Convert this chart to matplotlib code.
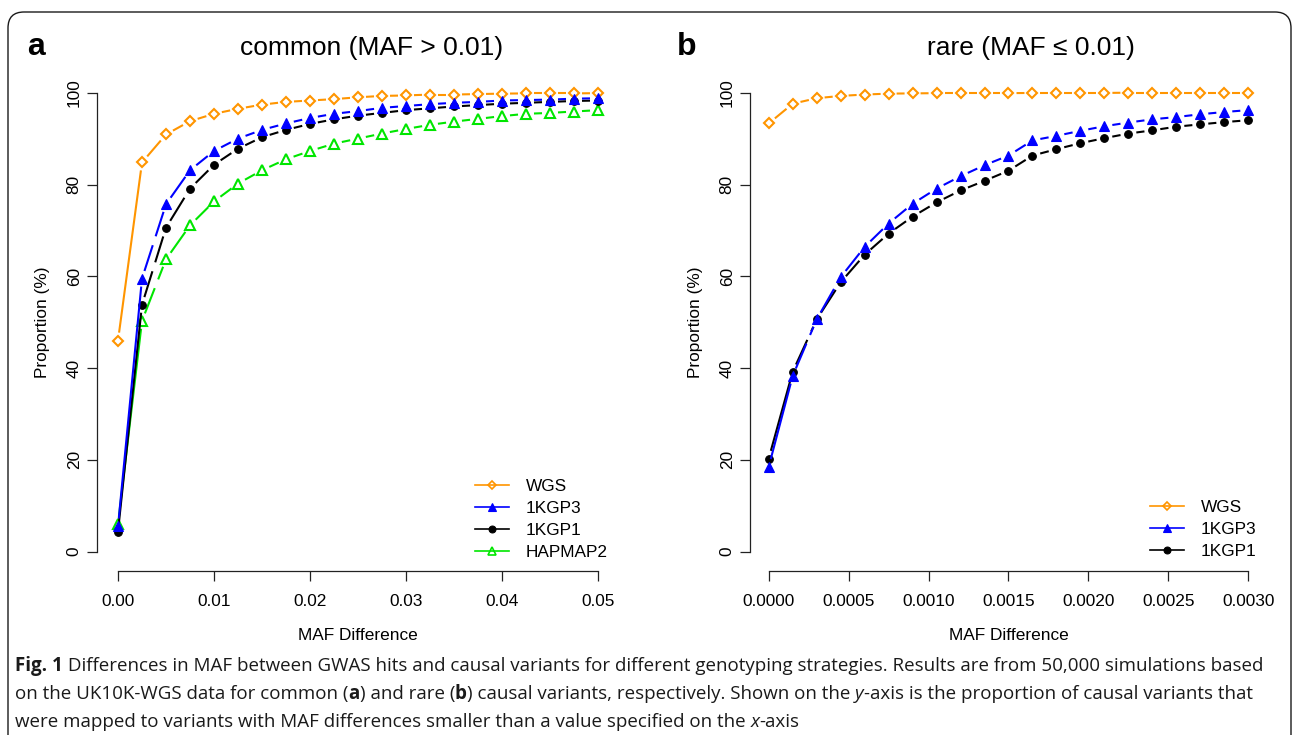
import numpy as np
import matplotlib
matplotlib.use("Agg")
import matplotlib.pyplot as plt
from matplotlib.lines import Line2D
from matplotlib.patches import FancyBboxPatch
from matplotlib.transforms import IdentityTransform

# ---- data ----
x_common = [0.0, 0.0025, 0.005, 0.0075, 0.01, 0.0125, 0.015, 0.0175, 0.02, 0.0225, 0.025,
            0.0275, 0.03, 0.0325, 0.035, 0.0375, 0.04, 0.0425, 0.045, 0.0475, 0.05]
wgs_common = [46.0, 84.8, 90.9, 93.8, 95.4, 96.5, 97.4, 98.0, 98.3, 98.6, 99.0,
              99.3, 99.4, 99.6, 99.6, 99.7, 99.8, 99.85, 99.85, 99.85, 99.9]
kgp3_common = [5.5, 59.5, 75.7, 83.1, 87.3, 90.0, 91.9, 93.3, 94.5, 95.4, 96.0,
               96.7, 97.1, 97.5, 97.8, 98.0, 98.3, 98.4, 98.5, 98.7, 98.8]
kgp1_common = [4.4, 53.8, 70.6, 79.1, 84.3, 87.8, 90.3, 91.9, 93.2, 94.2, 95.0,
               95.6, 96.2, 96.6, 97.0, 97.3, 97.6, 97.8, 98.0, 98.2, 98.3]
hapmap2_common = [6.0, 50.3, 63.7, 71.1, 76.3, 80.2, 83.1, 85.5, 87.3, 88.9, 90.0,
                  91.1, 92.1, 93.0, 93.7, 94.3, 94.9, 95.4, 95.6, 95.9, 96.2]

x_rare = [0.0, 0.00015, 0.0003, 0.00045, 0.0006, 0.00075, 0.0009, 0.00105, 0.0012, 0.00135,
          0.0015, 0.00165, 0.0018, 0.00195, 0.0021, 0.00225, 0.0024, 0.00255, 0.0027,
          0.00285, 0.003]
wgs_rare = [93.3, 97.6, 98.8, 99.3, 99.6, 99.8, 99.85, 99.9, 99.9, 99.9, 99.9,
            99.95, 99.95, 99.95, 99.95, 100.0, 100.0, 100.0, 100.0, 100.0, 100.0]
kgp3_rare = [18.5, 38.3, 50.6, 59.8, 66.4, 71.5, 75.8, 79.1, 81.8, 84.2, 86.3,
             89.6, 90.6, 91.7, 92.7, 93.5, 94.2, 94.7, 95.3, 95.8, 96.2]
kgp1_rare = [20.3, 39.2, 50.6, 58.7, 64.7, 69.3, 73.0, 76.1, 78.7, 80.8, 83.0,
             86.3, 87.7, 89.0, 90.1, 91.1, 91.8, 92.6, 93.1, 93.6, 94.0]

xticks_common = [0.0, 0.01, 0.02, 0.03, 0.04, 0.05]
xticklabels_common = ["0.00", "0.01", "0.02", "0.03", "0.04", "0.05"]
xticks_rare = [0.0, 0.0005, 0.001, 0.0015, 0.002, 0.0025, 0.003]
xticklabels_rare = ["0.0000", "0.0005", "0.0010", "0.0015", "0.0020", "0.0025", "0.0030"]
yticks = [0, 20, 40, 60, 80, 100]

# series styles: colour, marker, filled, marker size
STYLE = {
    "WGS": ("#FF9500", "D", False, 5.0),
    "1KGP3": ("#0000FF", "^", True, 7.0),
    "1KGP1": ("#000000", "o", True, 5.5),
    "HAPMAP2": ("#00E600", "^", False, 6.5),
}

W, H = 1293, 735
plt.rcParams["font.family"] = ["Liberation Sans", "DejaVu Sans"]
fig = plt.figure(figsize=(W / 100, H / 100), dpi=100)
fig.patch.set_facecolor("white")

AX_COL = "#222222"
FS = 12.4


def px_box(left, right, top, bottom):
    return [left / W, 1 - bottom / H, (right - left) / W, (bottom - top) / H]


def setup_axes(ax, xmax, xticks, xticklabels, pad_frac):
    span = xmax
    ax.set_xlim(-pad_frac * span, span * (1 + pad_frac))
    ax.set_ylim(-4.14, 104.14)
    for s in ["top", "right"]:
        ax.spines[s].set_visible(False)
    for s in ["left", "bottom"]:
        ax.spines[s].set_color(AX_COL)
        ax.spines[s].set_linewidth(0.9)
    ax.spines["left"].set_bounds(0, 100)
    ax.spines["bottom"].set_bounds(0, xmax)
    ax.set_xticks(xticks)
    ax.set_xticklabels(xticklabels)
    ax.set_yticks(yticks)
    ax.set_yticklabels([str(v) for v in yticks], rotation=90, va="center")
    ax.tick_params(axis="both", direction="out", length=7.5, width=0.9,
                   color=AX_COL, labelsize=FS)
    ax.tick_params(axis="x", pad=9)
    ax.tick_params(axis="y", pad=3.5)
    ax.set_xlabel("MAF Difference", fontsize=FS, labelpad=14)
    ax.set_ylabel("Proportion (%)", fontsize=FS, labelpad=12)
    ax.patch.set_alpha(0)


def draw_series(ax, x, y, name, gap=8.0):
    color, marker, filled, ms = STYLE[name]
    pts = ax.transData.transform(np.column_stack([x, y]))
    inv = ax.transData.inverted()
    for i in range(len(x) - 1):
        p0, p1 = pts[i], pts[i + 1]
        d = p1 - p0
        L = np.hypot(d[0], d[1])
        if L <= 2 * gap:
            continue
        u = d / L
        q0 = inv.transform(p0 + u * gap)
        q1 = inv.transform(p1 - u * gap)
        ls = "-" if i == 0 else (0, (13, 4.5))
        ax.plot([q0[0], q1[0]], [q0[1], q1[1]], color=color, lw=1.5,
                linestyle=ls, solid_capstyle="butt", dash_capstyle="butt")
    ax.plot(x, y, linestyle="none", marker=marker, markersize=ms,
            markerfacecolor=color if filled else "none",
            markeredgecolor=color, markeredgewidth=1.5 if not filled else 0.8)


def add_legend(ax, names, left_px, top_px):
    handles = []
    for n in names:
        color, marker, filled, ms = STYLE[n]
        handles.append(Line2D([], [], color=color, lw=1.2, marker=marker,
                              markersize=ms * 0.9,
                              markerfacecolor=color if filled else "none",
                              markeredgecolor=color,
                              markeredgewidth=1.2 if not filled else 0.8))
    ax.legend(handles, names, loc="upper left",
              bbox_to_anchor=(left_px / W, 1 - top_px / H),
              bbox_transform=fig.transFigure, frameon=False, fontsize=FS,
              handlelength=2.0, handletextpad=0.95, labelspacing=0.4,
              borderpad=0, borderaxespad=0)


# ---- panel a ----
ax1 = fig.add_axes(px_box(97, 619, 73.7, 570.7))
setup_axes(ax1, 0.05, xticks_common, xticklabels_common, 21 / 480)
draw_series(ax1, x_common, wgs_common, "WGS")
draw_series(ax1, x_common, hapmap2_common, "HAPMAP2")
draw_series(ax1, x_common, kgp1_common, "1KGP1")
draw_series(ax1, x_common, kgp3_common, "1KGP3")
add_legend(ax1, ["WGS", "1KGP3", "1KGP1", "HAPMAP2"], 475, 479)

# ---- panel b ----
ax2 = fig.add_axes(px_box(750, 1267, 73.7, 570.7))
setup_axes(ax2, 0.003, xticks_rare, xticklabels_rare, 18.7 / 479.3)
draw_series(ax2, x_rare, wgs_rare, "WGS")
draw_series(ax2, x_rare, kgp1_rare, "1KGP1")
draw_series(ax2, x_rare, kgp3_rare, "1KGP3")
add_legend(ax2, ["WGS", "1KGP3", "1KGP1"], 1150, 500)

# titles and panel letters
base_y = 1 - 55 / H
fig.text(372 / W, base_y, "common (MAF > 0.01)", ha="center", va="baseline", fontsize=19)
fig.text(1031 / W, base_y, "rare (MAF \u2264 0.01)", ha="center", va="baseline", fontsize=19)
fig.text(27 / W, base_y, "a", ha="left", va="baseline", fontsize=23, fontweight="bold")
fig.text(677 / W, base_y, "b", ha="left", va="baseline", fontsize=23, fontweight="bold")

# rounded frame around the figure
frame = FancyBboxPatch((8, -30), 1283, H - 12 + 30,
                       boxstyle="round,pad=0,rounding_size=16",
                       transform=IdentityTransform(), fill=False,
                       edgecolor="#1a1a1a", linewidth=1.0, clip_on=False)
fig.patches.append(frame)

# caption, drawn run by run so bold/italic bits stay real text
cap_lines = [
    [("Fig. 1", "bold", "normal"),
     (" Differences in MAF between GWAS hits and causal variants for different genotyping "
      "strategies. Results are from 50,000 simulations based", "normal", "normal")],
    [("on the UK10K-WGS data for common (", "normal", "normal"), ("a", "bold", "normal"),
     (") and rare (", "normal", "normal"), ("b", "bold", "normal"),
     (") causal variants, respectively. Shown on the ", "normal", "normal"),
     ("y", "normal", "italic"),
     ("-axis is the proportion of causal variants that", "normal", "normal")],
    [("were mapped to variants with MAF differences smaller than a value specified on the ",
      "normal", "normal"), ("x", "normal", "italic"), ("-axis", "normal", "normal")],
]
cap_baselines = [671, 699, 727]
renderer = fig.canvas.get_renderer()
for runs, yb in zip(cap_lines, cap_baselines):
    x = 15.0
    for txt, weight, style in runs:
        t = fig.text(x / W, 1 - yb / H, txt, ha="left", va="baseline",
                     fontsize=13.5, family=["Open Sans", "DejaVu Sans"],
                     fontweight=weight, fontstyle=style, color="#1a1a1a")
        x += t.get_window_extent(renderer).width

fig.savefig("out.png", dpi=100)
